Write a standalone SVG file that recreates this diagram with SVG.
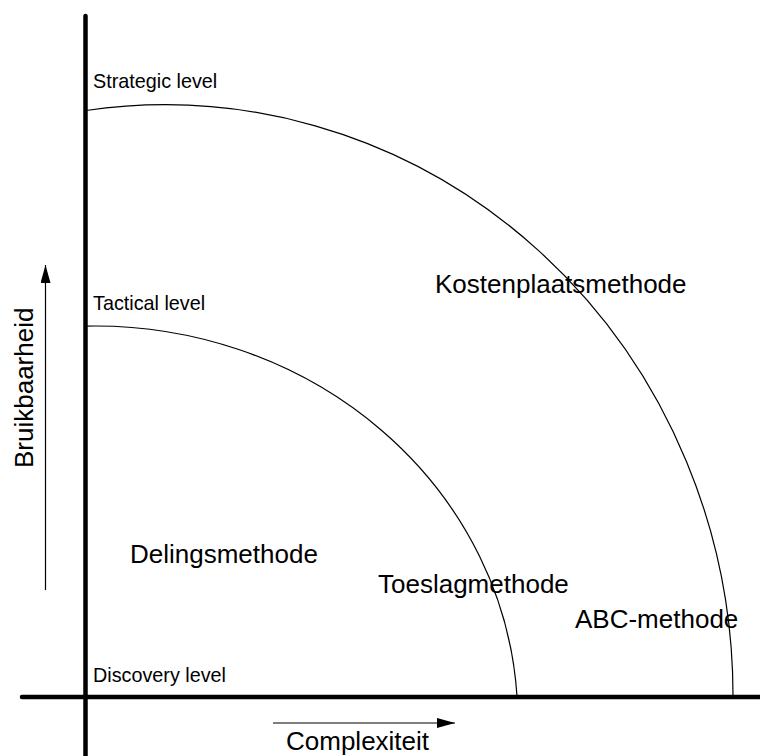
<svg xmlns="http://www.w3.org/2000/svg" width="760" height="756" viewBox="0 0 760 756">
<style>
.axis{stroke:#000;stroke-width:4.5;fill:none;stroke-linecap:round}
.arc{stroke:#000;stroke-width:1.2;fill:none}
.thin{stroke:#000;stroke-width:1.2;fill:none}
.sm{font-family:"Liberation Sans",Arial,sans-serif;font-size:19.8px;fill:#000}
.lg{font-family:"Liberation Sans",Arial,sans-serif;font-size:26px;fill:#000}
</style>
<defs>
<marker id="ah" viewBox="0 0 18 10" refX="18" refY="5" markerWidth="18" markerHeight="10" markerUnits="userSpaceOnUse" orient="auto">
<path d="M0,0 L18,5 L0,10 Z" fill="#000"/>
</marker>
</defs>
<rect width="760" height="756" fill="#fff"/>
<g id="connectors">
<line class="axis" x1="85.5" y1="16" x2="85.5" y2="760"/>
<line class="axis" x1="22" y1="697" x2="764" y2="697"/>
<line class="thin" x1="273" y1="723" x2="455" y2="723" marker-end="url(#ah)"/>
<line class="thin" x1="45.5" y1="590" x2="45.5" y2="265" marker-end="url(#ah)"/>
</g>
<g id="arcs">
<path class="arc" d="M86,110.5 A568,591 0 0 1 733,696"/>
<path class="arc" d="M86,326.1 A423,394 0 0 1 517,696"/>
</g>
<g id="levels">
<text class="sm" x="93" y="88">Strategic level</text>
<text class="sm" x="93" y="310">Tactical level</text>
<text class="sm" x="93" y="682">Discovery level</text>
</g>
<g id="methods">
<text class="lg" x="130" y="563">Delingsmethode</text>
<text class="lg" x="378" y="593">Toeslagmethode</text>
<text class="lg" x="575" y="628">ABC-methode</text>
<text class="lg" x="435" y="293">Kostenplaatsmethode</text>
</g>
<g id="axis-labels">
<text class="lg" x="286" y="750">Complexiteit</text>
<text class="lg" transform="translate(33,468) rotate(-90)">Bruikbaarheid</text>
</g>
</svg>
